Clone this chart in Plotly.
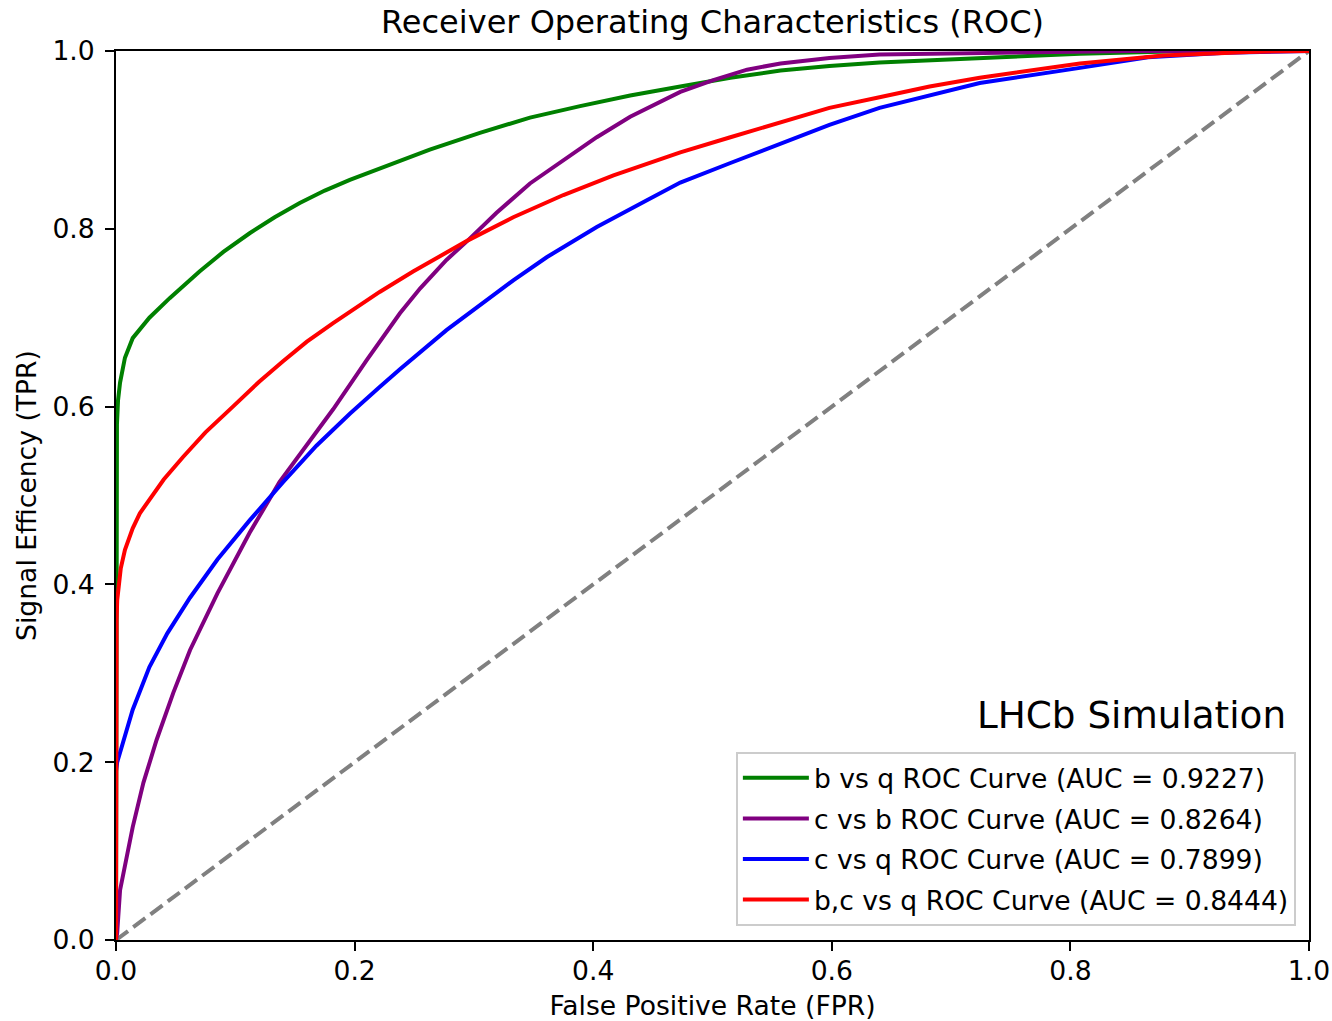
import plotly.graph_objects as go

# ---- data ----
b_vs_q_fpr = [0, 0, 0.0003, 0.0008, 0.0017, 0.0034, 0.0075, 0.014, 0.028, 0.045, 0.07, 0.09,
              0.112, 0.133, 0.154, 0.175, 0.196, 0.238, 0.263, 0.305, 0.347, 0.389, 0.431,
              0.473, 0.515, 0.557, 0.598, 0.64, 0.724, 0.808, 0.9, 1.0]
b_vs_q_tpr = [0, 0.45, 0.52, 0.58, 0.607, 0.627, 0.655, 0.677, 0.70, 0.722, 0.752, 0.774,
              0.795, 0.813, 0.829, 0.843, 0.855, 0.877, 0.889, 0.908, 0.925, 0.938, 0.95,
              0.96, 0.97, 0.978, 0.983, 0.987, 0.992, 0.997, 1.0, 1.0]

c_vs_b_fpr = [0, 0.001, 0.0034, 0.0092, 0.014, 0.023, 0.034, 0.048, 0.062, 0.085, 0.112,
              0.137, 0.154, 0.182, 0.21, 0.238, 0.255, 0.277, 0.295, 0.319, 0.347, 0.375,
              0.403, 0.431, 0.473, 0.5, 0.529, 0.557, 0.598, 0.64, 0.724, 0.85, 1.0]
c_vs_b_tpr = [0, 0.008, 0.056, 0.098, 0.127, 0.177, 0.225, 0.278, 0.326, 0.39, 0.458,
              0.515, 0.546, 0.597, 0.652, 0.705, 0.733, 0.765, 0.787, 0.818, 0.851, 0.877,
              0.903, 0.926, 0.954, 0.967, 0.979, 0.986, 0.992, 0.996, 0.998, 1.0, 1.0]

c_vs_q_fpr = [0, 0, 0.001, 0.014, 0.028, 0.043, 0.062, 0.085, 0.112, 0.14, 0.168, 0.196,
              0.221, 0.238, 0.277, 0.319, 0.333, 0.361, 0.403, 0.445, 0.473, 0.515, 0.557,
              0.598, 0.64, 0.682, 0.724, 0.808, 0.865, 0.93, 1.0]
c_vs_q_tpr = [0, 0.19, 0.2, 0.259, 0.307, 0.345, 0.385, 0.428, 0.472, 0.515, 0.556, 0.592,
              0.622, 0.642, 0.686, 0.728, 0.742, 0.768, 0.802, 0.832, 0.852, 0.874, 0.896,
              0.917, 0.936, 0.95, 0.964, 0.981, 0.993, 0.998, 1.0]

bc_vs_q_fpr = [0, 0, 0.0005, 0.001, 0.004, 0.0075, 0.014, 0.02, 0.028, 0.04, 0.056, 0.075,
               0.098, 0.12, 0.14, 0.16, 0.182, 0.221, 0.249, 0.277, 0.295, 0.333, 0.375,
               0.417, 0.473, 0.515, 0.557, 0.598, 0.64, 0.682, 0.724, 0.808, 0.878, 0.95, 1.0]
bc_vs_q_tpr = [0, 0.3, 0.36, 0.382, 0.418, 0.439, 0.463, 0.48, 0.496, 0.518, 0.543, 0.571,
               0.6, 0.628, 0.651, 0.673, 0.694, 0.729, 0.752, 0.773, 0.787, 0.813, 0.838,
               0.86, 0.886, 0.903, 0.92, 0.936, 0.948, 0.96, 0.97, 0.986, 0.995, 0.999, 1.0]

diag = [0, 1]

series_names = [
    "b vs q ROC Curve (AUC = 0.9227)",
    "c vs b ROC Curve (AUC = 0.8264)",
    "c vs q ROC Curve (AUC = 0.7899)",
    "b,c vs q ROC Curve (AUC = 0.8444)",
]
series_colors = ["green", "purple", "blue", "red"]
tick_vals = [0, 0.2, 0.4, 0.6, 0.8, 1.0]

FONT = "DejaVu Sans"
fig = go.Figure()

fig.add_trace(go.Scatter(x=diag, y=diag, mode="lines", showlegend=False,
                         line=dict(color="#808080", width=4, dash="15px,6.5px"),
                         hoverinfo="skip"))

data = [(b_vs_q_fpr, b_vs_q_tpr), (c_vs_b_fpr, c_vs_b_tpr),
        (c_vs_q_fpr, c_vs_q_tpr), (bc_vs_q_fpr, bc_vs_q_tpr)]
for i, ((xs, ys), name, col) in enumerate(zip(data, series_names, series_colors)):
    fig.add_trace(go.Scatter(x=xs, y=ys, mode="lines", name=name,
                             legendgroup=f"g{i}",
                             line=dict(color=col, width=4)))

axis_common = dict(
    range=[0, 1], tickvals=tick_vals, tickformat=".1f",
    showline=True, linecolor="black", linewidth=2, mirror=True,
    ticks="outside", ticklen=9, tickwidth=2, tickcolor="black",
    showgrid=False, zeroline=False, automargin=False,
    tickfont=dict(family=FONT, size=26.6, color="black"),
)

fig.update_layout(
    width=1332, height=1021,
    margin=dict(l=116, r=23, t=51, b=81),
    paper_bgcolor="white", plot_bgcolor="white",
    title=dict(text="Receiver Operating Characteristics (ROC)",
               font=dict(family=FONT, size=32, color="black"),
               x=(116 + 1309) / 2 / 1332, xanchor="center",
               y=1 - 22 / 1021, yanchor="middle"),
    xaxis=dict(**axis_common, ticklabelstandoff=-3,
               title=dict(text="False Positive Rate (FPR)", standoff=14,
                          font=dict(family=FONT, size=26.6, color="black"))),
    yaxis=dict(**axis_common, ticklabelstandoff=5,
               title=dict(text="Signal Efficency (TPR)", standoff=8,
                          font=dict(family=FONT, size=26.6, color="black"))),
    legend=dict(x=0.989, y=0.0157, xanchor="right", yanchor="bottom",
                bgcolor="rgba(255,255,255,0.8)", bordercolor="#cccccc", borderwidth=2,
                font=dict(family=FONT, size=26.6, color="black"),
                tracegroupgap=3, itemwidth=66),
    annotations=[dict(text="LHCb Simulation", xref="paper", yref="paper",
                      x=0.982, y=0.253, xanchor="right", yanchor="middle",
                      showarrow=False,
                      font=dict(family=FONT, size=37.3, color="black"))],
    showlegend=True,
)

fig.write_html("out.html")
